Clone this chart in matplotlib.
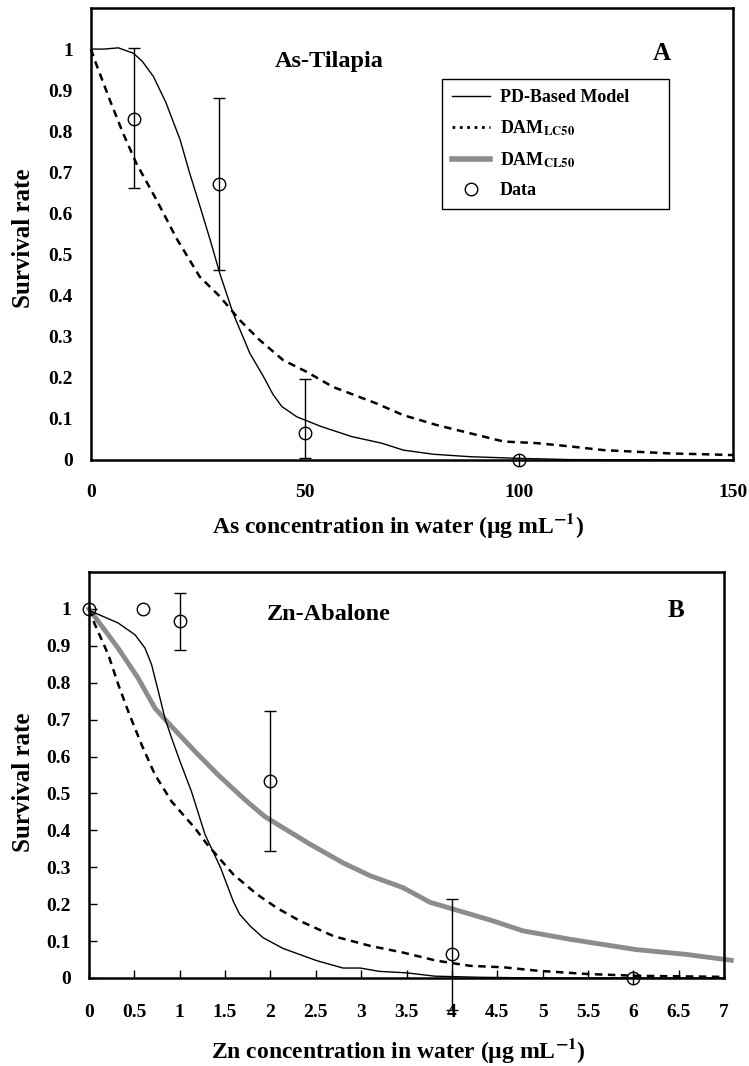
import matplotlib
matplotlib.use('Agg')
import matplotlib.pyplot as plt
from matplotlib.lines import Line2D
from matplotlib.ticker import FuncFormatter

plt.rcParams['font.family'] = ['Liberation Serif', 'DejaVu Serif']
plt.rcParams['font.weight'] = 'bold'
plt.rcParams['axes.labelweight'] = 'bold'
plt.rcParams['mathtext.fontset'] = 'stix'
plt.rcParams['mathtext.default'] = 'bf'

# --- A: As-Tilapia ---
as_pd_x = [0, 3, 6.4, 9.9, 12, 14.6, 17.5, 20.8, 23, 25.5, 28, 30.1, 33.2, 37.1, 40.3,
           42.5, 44.6, 48.1, 53.9, 60.9, 67.9, 73, 80, 88.6, 100, 112, 150]
as_pd_y = [1.0, 1.0, 1.003, 0.99, 0.97, 0.933, 0.87, 0.78, 0.70, 0.616, 0.53, 0.454, 0.357,
           0.26, 0.203, 0.16, 0.13, 0.105, 0.081, 0.057, 0.041, 0.024, 0.014, 0.008, 0.004,
           0.001, 0.0]
as_lc50_x = [0, 0.8, 4.4, 7.5, 10.6, 15.3, 20.0, 25.4, 30.1, 34.8, 39.4, 44.9, 50.3, 56.5,
             66.6, 73, 80.8, 88.6, 96.4, 104.2, 112, 119.8, 127.6, 135.3, 143.1, 150]
as_lc50_y = [1.0, 0.975, 0.876, 0.795, 0.722, 0.633, 0.539, 0.446, 0.398, 0.340, 0.292,
             0.243, 0.215, 0.178, 0.138, 0.109, 0.085, 0.065, 0.045, 0.041, 0.033, 0.024,
             0.02, 0.016, 0.014, 0.012]
as_data_x = [10, 30, 50, 100]
as_data_y = [0.831, 0.671, 0.065, 0.0]
as_err_lo = [0.168, 0.209, 0.06, 0.015]
as_err_hi = [0.171, 0.209, 0.131, 0.015]

# --- B: Zn-Abalone ---
zn_pd_x = [0, 0.03, 0.32, 0.507, 0.617, 0.69, 0.764, 0.837, 0.911, 1.003, 1.13, 1.28,
           1.45, 1.59, 1.66, 1.78, 1.92, 2.14, 2.51, 2.8, 2.99, 3.2, 3.5, 3.81, 4.29, 5, 7]
zn_pd_y = [1.0, 0.993, 0.962, 0.93, 0.894, 0.849, 0.777, 0.704, 0.65, 0.587, 0.505, 0.388,
           0.299, 0.208, 0.173, 0.14, 0.109, 0.08, 0.047, 0.027, 0.027, 0.018, 0.014, 0.005,
           0.002, 0.0, 0.0]
zn_lc50_x = [0, 0.066, 0.213, 0.323, 0.433, 0.58, 0.727, 0.911, 1.168, 1.3, 1.59, 1.85,
             2.07, 2.33, 2.7, 3.1, 3.46, 3.83, 4.2, 4.57, 4.93, 5.48, 6.03, 7]
zn_lc50_y = [1.0, 0.957, 0.876, 0.795, 0.722, 0.632, 0.551, 0.478, 0.406, 0.363, 0.281,
             0.227, 0.19, 0.154, 0.113, 0.087, 0.069, 0.047, 0.033, 0.029, 0.02, 0.011,
             0.006, 0.003]
zn_cl50_x = [0, 0.32, 0.54, 0.727, 0.874, 1.168, 1.425, 1.719, 1.94, 2.44, 2.8, 3.1, 3.46,
             3.76, 4.01, 4.45, 4.78, 5.3, 6.03, 6.58, 7.08]
zn_cl50_y = [1.0, 0.894, 0.813, 0.731, 0.691, 0.614, 0.55, 0.483, 0.437, 0.362, 0.312,
             0.277, 0.245, 0.205, 0.187, 0.155, 0.128, 0.105, 0.077, 0.064, 0.048]
zn_data_x = [0, 0.6, 1, 2, 4, 6]
zn_data_y = [1.0, 1.0, 0.967, 0.533, 0.064, 0.0]
zn_err = [0.0, 0.0, 0.077, 0.19, 0.15, 0.015]

y_ticks = [0, 0.1, 0.2, 0.3, 0.4, 0.5, 0.6, 0.7, 0.8, 0.9, 1]
as_x_ticks = [0, 50, 100, 150]
zn_x_ticks = [0, 0.5, 1, 1.5, 2, 2.5, 3, 3.5, 4, 4.5, 5, 5.5, 6, 6.5, 7]

GRAY = '#8c8c8c'
DASH = (0, (3, 2.2))
fmt = FuncFormatter(lambda v, p: '{:g}'.format(v))

fig = plt.figure(figsize=(7.49, 10.66), dpi=100)
axA = fig.add_axes([91 / 749, (1066 - 460) / 1066, (733 - 91) / 749, (460 - 8) / 1066])
axB = fig.add_axes([89 / 749, (1066 - 978) / 1066, (724 - 89) / 749, (978 - 572) / 1066])


def draw_points(ax, x, y, err_lo, err_hi):
    # 큰 오차는 캡 있게, 아주 작은 건 캡 없이
    big = [i for i in range(len(x)) if err_hi[i] > 0.05]
    small = [i for i in range(len(x)) if 0 < err_hi[i] <= 0.05]
    for idx, cap in ((big, 4), (small, 0)):
        if not idx:
            continue
        eb = ax.errorbar([x[i] for i in idx], [y[i] for i in idx],
                         yerr=[[err_lo[i] for i in idx], [err_hi[i] for i in idx]],
                         fmt='none', ecolor='black', elinewidth=1.0, capsize=cap,
                         capthick=1.0, zorder=4)
        for a in eb.get_children():
            a.set_clip_on(False)
    ax.plot(x, y, 'o', ms=9, mfc='none', mec='black', mew=1.0, clip_on=False, zorder=5)


def style_axis(ax, xlim, xticks, xlabel, tick_len, xpad):
    ax.set_xlim(*xlim)
    ax.set_ylim(0, 1.1)
    ax.set_xticks(xticks)
    ax.set_yticks(y_ticks)
    ax.xaxis.set_major_formatter(fmt)
    ax.yaxis.set_major_formatter(fmt)
    ax.tick_params(axis='x', direction='in', length=tick_len, width=1.0, pad=xpad,
                   labelsize=14)
    ax.tick_params(axis='y', direction='in', length=tick_len, width=1.0, pad=13,
                   labelsize=14)
    for s in ax.spines.values():
        s.set_linewidth(1.8)
    ax.set_xlabel(xlabel, fontsize=17)
    ax.set_ylabel('Survival rate', fontsize=18)


# A 패널
axA.plot(as_pd_x, as_pd_y, color='black', lw=1.0)
axA.plot(as_lc50_x, as_lc50_y, color='black', lw=1.8, linestyle=DASH, clip_on=False)
draw_points(axA, as_data_x, as_data_y, as_err_lo, as_err_hi)
style_axis(axA, (0, 150), as_x_ticks, r'As concentration in water (µg mL$^{-1}$)', 0, 17)
axA.xaxis.set_label_coords(0.478, -0.112)
axA.yaxis.set_label_coords(-0.087, 0.49)
axA.text(43, 0.957, 'As-Tilapia', fontsize=17.5, fontweight='bold', va='baseline')
axA.text(131.2, 0.973, 'A', fontsize=18, fontweight='bold', va='baseline')

handles = [
    Line2D([], [], color='black', lw=1.0),
    Line2D([], [], color='black', lw=2.0, linestyle=':'),
    Line2D([], [], color=GRAY, lw=4.0),
    Line2D([], [], color='black', marker='o', ms=9, mfc='none', mew=1.0, linestyle='none'),
]
labels = ['PD-Based Model', r'DAM$_{LC50}$', r'DAM$_{CL50}$', 'Data']
leg = axA.legend(handles, labels, loc='upper left', bbox_to_anchor=(0.547, 0.557, 0.353, 0.286),
                 mode='expand', borderaxespad=0, fancybox=False, edgecolor='black',
                 framealpha=1, fontsize=13, handlelength=2.1, handletextpad=0.55,
                 labelspacing=0.68, borderpad=0.55, numpoints=1)
leg.get_frame().set_linewidth(1.0)

# B 패널
axB.plot(zn_cl50_x, zn_cl50_y, color=GRAY, lw=3.5, clip_on=False)
axB.plot(zn_pd_x, zn_pd_y, color='black', lw=1.0)
axB.plot(zn_lc50_x, zn_lc50_y, color='black', lw=1.8, linestyle=DASH)
draw_points(axB, zn_data_x, zn_data_y, zn_err, zn_err)
style_axis(axB, (0, 7), zn_x_ticks, r'Zn concentration in water (µg mL$^{-1}$)', 6, 19)
axB.xaxis.set_label_coords(0.487, -0.142)
axB.yaxis.set_label_coords(-0.085, 0.483)
axB.text(1.958, 0.971, 'Zn-Abalone', fontsize=17.5, fontweight='bold', va='baseline')
axB.text(6.376, 0.978, 'B', fontsize=18, fontweight='bold', va='baseline')

fig.savefig('out.png', dpi=100)
